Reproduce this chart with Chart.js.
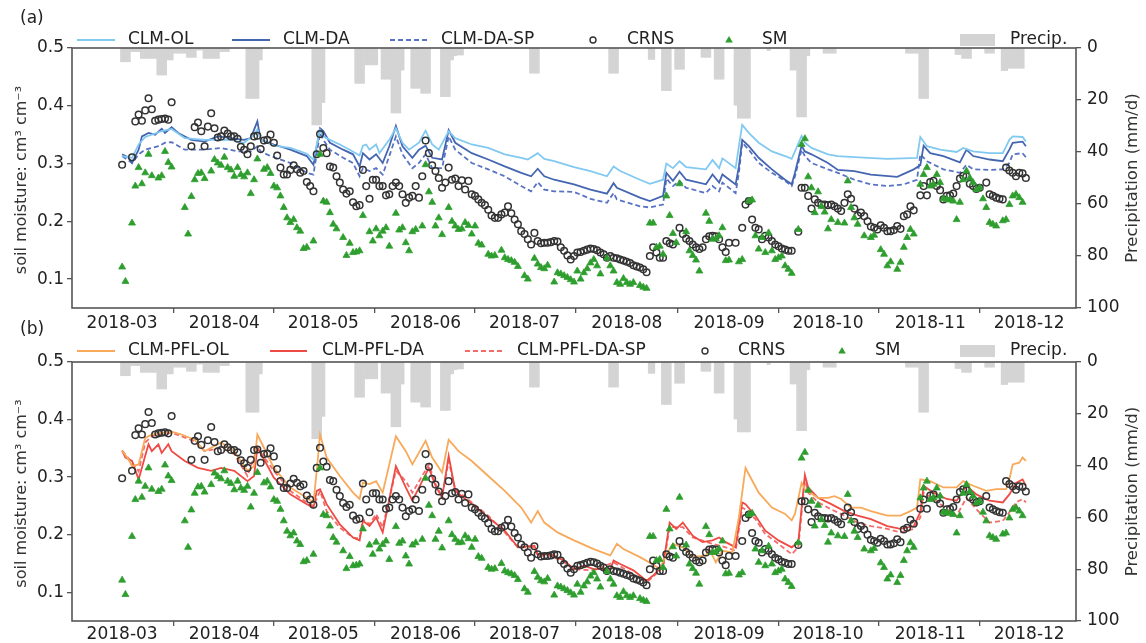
<!DOCTYPE html>
<html>
<head>
<meta charset="utf-8">
<script src="https://cdn.jsdelivr.net/npm/chart.js@4.4.0/dist/chart.umd.min.js"></script>
<style>
  body { margin: 0; background: #fff; width: 1146px; height: 643px; position: relative; overflow: hidden; }
  canvas { position: absolute; left: 0; }
  #chartA { top: 0; }
  #chartB { top: 318px; }
</style>
</head>
<body>
<canvas id="chartA" width="1146" height="336"></canvas>
<canvas id="chartB" width="1146" height="325"></canvas>
<script>
// x values are days counted from 2018-03-01
const tickDays = [0, 31, 61, 92, 122, 153, 184, 214, 245, 275];
const tickLabels = ['2018-03', '2018-04', '2018-05', '2018-06', '2018-07', '2018-08', '2018-09', '2018-10', '2018-11', '2018-12'];
const moistureTicks = [0.1, 0.2, 0.3, 0.4, 0.5];
const precipTicks = [0, 20, 40, 60, 80, 100];

// daily precipitation (mm/d), only rainy days
const precipDays = [0,1,2,3,4,5,6,7,8,9,10,11,12,13,14,15,16,17,18,19,20,21,22,23,24,25,26,27,28,29,30,31,32,
  38,39,40,41,42,58,59,60,61,71,72,73,74,75,76,77,79,80,81,82,83,84,85,88,89,90,91,92,93,97,98,99,100,101,102,103,
  124,125,126,148,149,150,160,161,164,165,166,168,169,170,176,177,178,180,181,182,186,187,188,189,190,196,
  203,204,205,206,207,208,213,214,215,216,238,239,240,241,242,243,244,253,254,255,256,257,262,263,264,
  267,268,269,270,271,272,273];
const precipMm = [5.3,5.3,5.3,1.4,1.4,1.4,4,4,4,4,4,10.4,10.4,10.4,4.6,4.6,2,2,2,2,3.6,3.6,3.6,0.8,0.8,4,4,4,4,4,1.4,1.4,1.4,
  19.4,19.4,19.4,19.4,4.6,29.6,29.6,29.6,21,13.6,13.6,13.6,6.5,6.5,6.5,6.5,12,12,12,25,25,25,8.5,15.5,15.5,15.5,17.4,17.4,17.4,18.7,18.7,18.7,4.6,3,2.7,2.7,
  9.7,9.7,9.7,9.7,9.7,9.7,4.4,4.4,16.4,16.4,16.4,8.2,8.2,8.2,3.6,3.6,3.6,12,12,12,22,27,27,27,27,1,
  8.5,8.5,26.5,26.5,26.5,3,2,2,2,2,2,2,2,2,19.4,19.4,19.4,2.5,2.5,4,4,4,2,2,2,
  8.7,8.7,7.8,7.8,7.8,7.8,7.8];

// observations [day, soil moisture]
const crns = [[0,0.298],[3,0.311],[4,0.373],[5,0.385],[6,0.374],[7,0.392],[8,0.413],[9,0.394],[10,0.374],[11,0.376],[12,0.377],[13,0.378],[14,0.376],[15,0.406],
  [21,0.33],[22,0.363],[23,0.371],[24,0.356],[25,0.33],[26,0.364],[27,0.387],[28,0.361],[29,0.345],[30,0.347],[31,0.357],[32,0.352],[33,0.347],[34,0.347],[35,0.343],
  [36,0.329],[37,0.324],[38,0.316],[39,0.33],[40,0.347],[41,0.348],[42,0.325],[43,0.34],[44,0.341],[45,0.35],[46,0.336],[47,0.314],[48,0.293],[49,0.281],[50,0.281],
  [51,0.289],[52,0.297],[53,0.29],[54,0.284],[55,0.287],[56,0.268],[57,0.261],[58,0.252],[59,0.316],[60,0.351],[61,0.327],[62,0.318],[63,0.295],[64,0.293],[65,0.278],
  [66,0.267],[67,0.255],[68,0.248],[69,0.252],[70,0.233],[71,0.226],[72,0.228],[73,0.289],[74,0.261],[75,0.239],[76,0.272],[77,0.272],[78,0.261],[79,0.261],[80,0.245],
  [81,0.247],[82,0.261],[83,0.267],[84,0.261],[85,0.247],[86,0.232],[87,0.241],[88,0.244],[89,0.261],[90,0.241],[91,0.278],[92,0.34],[93,0.318],[94,0.297],[95,0.287],
  [96,0.275],[97,0.258],[98,0.267],[99,0.293],[100,0.272],[101,0.274],[102,0.261],[103,0.271],[104,0.255],[105,0.27],[106,0.247],[107,0.244],[108,0.238],[109,0.232],
  [110,0.228],[111,0.22],[112,0.21],[113,0.206],[114,0.206],[115,0.212],[116,0.215],[117,0.226],[118,0.214],[119,0.203],[120,0.195],[121,0.183],[122,0.178],[123,0.169],
  [124,0.16],[125,0.18],[126,0.166],[127,0.162],[128,0.163],[129,0.163],[130,0.164],[131,0.166],[132,0.165],[133,0.155],[134,0.149],[135,0.141],[136,0.134],[137,0.14],
  [138,0.146],[139,0.147],[140,0.149],[141,0.151],[142,0.153],[143,0.152],[144,0.15],[145,0.146],[146,0.143],[147,0.137],[148,0.14],[149,0.137],[150,0.136],[151,0.134],
  [152,0.132],[153,0.13],[154,0.128],[155,0.124],[156,0.122],[157,0.12],[158,0.117],[159,0.112],[160,0.14],[161,0.155],[162,0.146],[163,0.137],[164,0.137],[165,0.166],
  [166,0.162],[167,0.16],[169,0.189],[170,0.178],[171,0.17],[172,0.166],[173,0.16],[174,0.155],[175,0.152],[176,0.155],[177,0.169],[178,0.174],[179,0.175],[180,0.174],
  [181,0.169],[182,0.155],[183,0.147],[184,0.163],[186,0.163],[188,0.189],[189,0.229],[190,0.235],[191,0.203],[192,0.189],[193,0.186],[194,0.169],[195,0.175],[196,0.172],
  [197,0.166],[198,0.16],[199,0.157],[200,0.153],[201,0.151],[202,0.149],[203,0.149],[205,0.182],[206,0.258],[207,0.258],[208,0.244],[209,0.222],[210,0.238],[211,0.232],
  [212,0.229],[213,0.229],[214,0.228],[215,0.229],[216,0.226],[217,0.222],[218,0.218],[219,0.232],[220,0.247],[221,0.239],[222,0.222],[223,0.21],[224,0.215],[225,0.209],
  [226,0.2],[227,0.191],[228,0.189],[229,0.186],[230,0.193],[231,0.189],[232,0.183],[233,0.183],[234,0.185],[235,0.192],[236,0.187],[237,0.209],[238,0.212],[239,0.226],
  [240,0.219],[242,0.245],[243,0.261],[244,0.245],[245,0.268],[246,0.27],[247,0.261],[248,0.254],[249,0.238],[250,0.244],[251,0.245],[252,0.248],[253,0.261],[254,0.274],
  [255,0.279],[256,0.278],[257,0.265],[258,0.261],[259,0.256],[260,0.258],[262,0.267],[263,0.247],[264,0.244],[265,0.241],[266,0.239],[267,0.238],[268,0.293],[269,0.288],
  [270,0.284],[271,0.278],[272,0.284],[273,0.283],[274,0.275]];

const sm = [[0,0.121],[1,0.096],[3,0.197],[4,0.261],[5,0.293],[6,0.265],[7,0.284],[8,0.316],[9,0.279],[11,0.275],[12,0.279],[13,0.321],[14,0.302],[15,0.294],
  [19,0.224],[20,0.178],[21,0.243],[22,0.272],[23,0.283],[24,0.284],[25,0.274],[27,0.287],[28,0.307],[29,0.301],[30,0.297],[31,0.311],[32,0.293],[33,0.289],[34,0.278],
  [35,0.293],[36,0.281],[37,0.277],[38,0.284],[39,0.248],[40,0.272],[41,0.308],[43,0.29],[44,0.293],[45,0.283],[46,0.261],[47,0.258],[48,0.244],[49,0.224],[50,0.206],
  [51,0.198],[52,0.203],[53,0.189],[54,0.183],[55,0.153],[56,0.155],[58,0.166],[60,0.316],[61,0.235],[62,0.233],[63,0.215],[64,0.195],[65,0.187],[67,0.172],[68,0.141],
  [69,0.162],[70,0.146],[71,0.147],[72,0.149],[73,0.21],[75,0.182],[76,0.166],[77,0.187],[78,0.175],[79,0.183],[80,0.189],[81,0.157],[83,0.214],[84,0.185],[85,0.189],
  [86,0.163],[87,0.149],[88,0.182],[89,0.186],[91,0.192],[92,0.298],[93,0.251],[94,0.233],[95,0.192],[96,0.206],[97,0.177],[99,0.224],[100,0.2],[101,0.192],[102,0.186],
  [103,0.187],[104,0.198],[105,0.193],[106,0.178],[107,0.192],[108,0.162],[109,0.159],[111,0.143],[112,0.14],[113,0.141],[115,0.15],[116,0.137],[117,0.134],[118,0.132],
  [119,0.129],[120,0.122],[122,0.106],[123,0.1],[125,0.136],[126,0.126],[127,0.12],[128,0.118],[129,0.124],[131,0.095],[132,0.111],[133,0.109],[134,0.106],[135,0.103],
  [136,0.099],[137,0.095],[138,0.114],[139,0.1],[140,0.111],[141,0.118],[142,0.128],[143,0.134],[144,0.123],[145,0.109],[147,0.136],[148,0.123],[149,0.114],[150,0.094],
  [151,0.091],[152,0.101],[153,0.094],[154,0.091],[155,0.094],[157,0.089],[158,0.086],[159,0.084],[160,0.197],[161,0.197],[162,0.155],[163,0.157],[164,0.143],[165,0.244],
  [166,0.21],[167,0.179],[168,0.163],[169,0.265],[171,0.182],[172,0.149],[173,0.141],[174,0.133],[175,0.114],[177,0.214],[178,0.2],[179,0.169],[180,0.17],[181,0.175],
  [182,0.189],[183,0.132],[184,0.133],[187,0.13],[188,0.134],[190,0.235],[191,0.237],[192,0.175],[193,0.152],[194,0.172],[195,0.146],[196,0.18],[197,0.149],[198,0.134],
  [199,0.137],[200,0.14],[201,0.123],[202,0.117],[203,0.11],[205,0.186],[206,0.333],[207,0.343],[208,0.277],[209,0.258],[210,0.215],[211,0.251],[212,0.226],[213,0.216],
  [214,0.187],[215,0.203],[217,0.198],[219,0.197],[220,0.27],[221,0.224],[222,0.206],[223,0.195],[225,0.175],[227,0.172],[228,0.176],[230,0.151],[231,0.143],[232,0.123],
  [233,0.13],[235,0.117],[236,0.129],[237,0.155],[238,0.172],[239,0.186],[240,0.178],[242,0.264],[243,0.281],[244,0.293],[245,0.261],[246,0.264],[247,0.281],[248,0.267],
  [249,0.239],[250,0.238],[251,0.237],[252,0.235],[253,0.203],[254,0.233],[255,0.272],[256,0.287],[257,0.275],[258,0.267],[259,0.255],[260,0.258],[261,0.239],[262,0.224],
  [263,0.198],[264,0.195],[265,0.192],[267,0.201],[268,0.203],[269,0.229],[270,0.244],[271,0.247],[272,0.241],[273,0.233]];

// panel (a) model runs
const clmOL = [[0,0.313],[3,0.31],[5,0.333],[7,0.346],[12,0.356],[15,0.36],[19,0.344],[25,0.341],[29,0.341],[33,0.341],[37,0.336],[40,0.35],[41,0.359],[42,0.341],
  [46,0.331],[51,0.327],[56,0.317],[58,0.307],[60,0.358],[61,0.347],[63,0.341],[66,0.333],[69,0.324],[72,0.314],[73,0.331],[74,0.333],[75,0.324],[77,0.333],[78,0.318],
  [81,0.341],[83,0.361],[85,0.336],[87,0.324],[90,0.336],[92,0.357],[94,0.333],[96,0.324],[99,0.356],[101,0.344],[106,0.333],[111,0.327],[116,0.316],[121,0.31],
  [123,0.307],[126,0.318],[128,0.308],[131,0.304],[137,0.294],[142,0.287],[147,0.278],[149,0.295],[151,0.287],[157,0.272],[160,0.265],[164,0.272],[165,0.3],[167,0.292],
  [169,0.304],[171,0.294],[177,0.29],[179,0.306],[181,0.292],[182,0.309],[186,0.292],[187,0.33],[188,0.367],[190,0.353],[193,0.336],[197,0.321],[201,0.313],[203,0.308],
  [204,0.321],[206,0.348],[207,0.336],[209,0.327],[214,0.316],[217,0.313],[222,0.311],[232,0.308],[241,0.31],[242,0.346],[244,0.33],[248,0.324],[253,0.32],[255,0.327],
  [258,0.321],[263,0.318],[267,0.318],[269,0.341],[270,0.347],[273,0.346],[274,0.338]];
const clmDA = [[0,0.316],[2,0.31],[3,0.301],[5,0.324],[6,0.347],[8,0.353],[10,0.35],[12,0.36],[13,0.353],[15,0.363],[17,0.353],[21,0.341],[25,0.338],[29,0.347],
  [33,0.344],[37,0.341],[39,0.344],[41,0.373],[42,0.341],[46,0.333],[51,0.324],[56,0.313],[58,0.298],[60,0.361],[61,0.356],[63,0.336],[67,0.324],[70,0.316],[72,0.295],
  [73,0.318],[75,0.307],[77,0.316],[79,0.301],[81,0.33],[83,0.365],[85,0.33],[88,0.31],[90,0.324],[92,0.331],[94,0.31],[97,0.307],[99,0.358],[101,0.336],[106,0.318],
  [111,0.307],[116,0.295],[121,0.284],[124,0.278],[126,0.291],[128,0.278],[131,0.272],[137,0.264],[142,0.255],[147,0.248],[149,0.266],[150,0.258],[157,0.241],[160,0.235],
  [164,0.244],[165,0.284],[167,0.27],[169,0.286],[171,0.272],[177,0.264],[179,0.281],[181,0.267],[182,0.281],[186,0.264],[187,0.295],[188,0.341],[190,0.33],[193,0.31],
  [197,0.29],[201,0.272],[203,0.264],[204,0.284],[206,0.331],[207,0.321],[209,0.316],[214,0.301],[217,0.289],[222,0.287],[227,0.281],[235,0.277],[240,0.29],[242,0.297],
  [243,0.331],[245,0.318],[249,0.313],[254,0.302],[256,0.324],[258,0.313],[263,0.307],[267,0.304],[269,0.324],[270,0.336],[273,0.338],[274,0.33]];
const clmDASP = [[0,0.313],[3,0.301],[5,0.316],[7,0.324],[11,0.33],[13,0.336],[15,0.337],[19,0.324],[25,0.324],[30,0.327],[35,0.321],[39,0.321],[41,0.33],[42,0.321],
  [45,0.313],[51,0.301],[56,0.284],[58,0.281],[60,0.353],[61,0.341],[63,0.324],[67,0.31],[70,0.301],[72,0.278],[73,0.292],[75,0.287],[77,0.292],[79,0.281],[81,0.313],
  [83,0.347],[85,0.316],[88,0.292],[90,0.301],[92,0.316],[94,0.292],[97,0.292],[99,0.347],[101,0.324],[106,0.301],[111,0.29],[116,0.278],[121,0.261],[124,0.252],
  [126,0.268],[128,0.255],[131,0.252],[137,0.251],[142,0.239],[147,0.232],[149,0.249],[150,0.238],[157,0.226],[160,0.224],[164,0.229],[165,0.274],[167,0.261],[169,0.27],
  [171,0.258],[177,0.249],[179,0.261],[181,0.252],[182,0.267],[186,0.249],[187,0.284],[188,0.336],[190,0.324],[193,0.301],[197,0.284],[201,0.27],[203,0.261],[204,0.278],
  [206,0.324],[207,0.313],[209,0.301],[214,0.29],[217,0.284],[222,0.272],[227,0.264],[232,0.261],[237,0.264],[241,0.272],[242,0.316],[244,0.304],[249,0.29],[254,0.284],
  [256,0.298],[258,0.29],[263,0.289],[267,0.29],[269,0.301],[270,0.316],[273,0.318],[274,0.311]];

// panel (b) model runs
const pflOL = [[0,0.346],[2,0.33],[3,0.319],[5,0.322],[7,0.368],[9,0.374],[12,0.377],[15,0.379],[18,0.374],[22,0.365],[25,0.345],[27,0.351],[30,0.36],[34,0.345],
  [38,0.311],[40,0.319],[41,0.374],[43,0.351],[46,0.316],[51,0.282],[56,0.264],[58,0.256],[59,0.311],[60,0.374],[62,0.334],[66,0.302],[70,0.273],[72,0.262],[73,0.29],
  [75,0.288],[77,0.293],[79,0.273],[83,0.371],[86,0.345],[88,0.322],[92,0.363],[94,0.334],[97,0.308],[99,0.365],[102,0.345],[106,0.328],[111,0.302],[116,0.276],
  [121,0.247],[124,0.221],[126,0.241],[128,0.221],[132,0.204],[137,0.19],[143,0.175],[148,0.164],[150,0.184],[152,0.175],[157,0.161],[161,0.148],[163,0.14],[165,0.166],
  [167,0.184],[170,0.178],[173,0.161],[177,0.164],[178,0.175],[180,0.152],[182,0.172],[185,0.169],[187,0.23],[189,0.316],[190,0.305],[193,0.273],[197,0.247],[201,0.236],
  [203,0.225],[204,0.236],[206,0.29],[207,0.279],[211,0.264],[214,0.264],[216,0.267],[218,0.262],[221,0.247],[224,0.247],[227,0.241],[232,0.233],[236,0.233],[239,0.241],
  [241,0.247],[242,0.296],[245,0.293],[249,0.282],[253,0.282],[255,0.293],[258,0.285],[262,0.276],[265,0.279],[268,0.279],[269,0.296],[270,0.322],[272,0.325],[273,0.334],
  [274,0.328]];
const pflDA = [[0,0.346],[1,0.334],[3,0.328],[5,0.296],[7,0.337],[8,0.357],[9,0.345],[11,0.357],[12,0.342],[14,0.357],[15,0.345],[19,0.328],[23,0.316],[27,0.311],
  [30,0.316],[34,0.311],[38,0.293],[40,0.302],[41,0.351],[43,0.331],[46,0.299],[51,0.27],[56,0.253],[58,0.247],[59,0.276],[60,0.279],[62,0.253],[66,0.218],[70,0.195],
  [72,0.19],[73,0.224],[75,0.215],[77,0.23],[79,0.204],[83,0.319],[86,0.282],[88,0.259],[93,0.316],[95,0.285],[97,0.264],[99,0.337],[101,0.276],[106,0.253],[111,0.23],
  [116,0.207],[120,0.178],[125,0.181],[126,0.166],[130,0.166],[134,0.155],[137,0.14],[140,0.146],[143,0.14],[148,0.14],[149,0.155],[151,0.149],[155,0.138],[159,0.12],
  [161,0.129],[164,0.146],[166,0.221],[168,0.21],[170,0.221],[173,0.198],[176,0.187],[179,0.19],[181,0.195],[183,0.187],[186,0.178],[188,0.256],[189,0.253],[192,0.233],
  [195,0.207],[199,0.19],[203,0.178],[205,0.187],[207,0.304],[208,0.282],[211,0.264],[215,0.253],[219,0.241],[223,0.233],[227,0.227],[232,0.215],[236,0.21],[240,0.215],
  [242,0.239],[243,0.285],[246,0.273],[250,0.262],[253,0.259],[256,0.285],[259,0.27],[263,0.259],[267,0.256],[269,0.27],[271,0.29],[273,0.296],[274,0.285]];
const pflDASP = [[0,0.346],[3,0.325],[5,0.31],[7,0.36],[9,0.371],[12,0.375],[15,0.377],[18,0.371],[22,0.362],[25,0.345],[30,0.351],[34,0.34],[38,0.302],[41,0.351],
  [46,0.311],[51,0.276],[56,0.256],[58,0.25],[60,0.276],[62,0.241],[66,0.212],[70,0.195],[72,0.193],[73,0.227],[75,0.218],[77,0.236],[79,0.213],[83,0.311],[86,0.293],
  [88,0.273],[93,0.322],[95,0.288],[97,0.267],[99,0.328],[101,0.279],[106,0.256],[111,0.233],[116,0.204],[120,0.178],[125,0.178],[126,0.163],[130,0.163],[134,0.152],
  [137,0.14],[143,0.138],[149,0.152],[159,0.117],[164,0.143],[166,0.213],[170,0.213],[173,0.195],[179,0.184],[183,0.178],[186,0.172],[188,0.247],[189,0.244],[192,0.227],
  [195,0.201],[199,0.184],[203,0.166],[205,0.178],[207,0.296],[208,0.273],[211,0.256],[215,0.244],[219,0.233],[223,0.221],[227,0.215],[232,0.21],[236,0.204],[240,0.21],
  [242,0.23],[243,0.273],[246,0.262],[250,0.244],[253,0.233],[256,0.264],[259,0.244],[263,0.221],[267,0.224],[269,0.239],[271,0.256],[273,0.262],[274,0.256]];

const COL = {
  ol: '#82c9f2', da: '#4466b0', sp: '#5873c4',
  pol: '#f8a95a', pda: '#ee4b45', psp: '#f46c6a',
  crns: '#333', sm: '#2e9e2e', rain: '#d4d4d4', frame: '#555', text: '#222'
};
const FONT = 'DejaVu Sans';
Chart.defaults.font.family = FONT;
Chart.defaults.color = COL.text;

const pts = pairs => pairs.map(p => ({ x: p[0], y: p[1] }));

function lineSet(label, pairs, color, dash) {
  return { type: 'line', label, data: pts(pairs), borderColor: color, borderWidth: 1.8,
    borderDash: dash || [], pointRadius: 0, fill: false, tension: 0, yAxisID: 'y', order: 3 };
}

function obsSets() {
  return [
    { type: 'scatter', label: 'CRNS', data: pts(crns), pointStyle: 'circle', pointRadius: 3.3,
      borderColor: COL.crns, borderWidth: 1.5, backgroundColor: 'rgba(0,0,0,0)', yAxisID: 'y', order: 2 },
    { type: 'scatter', label: 'SM', data: pts(sm), pointStyle: 'triangle', pointRadius: 4,
      borderColor: COL.sm, borderWidth: 0.8, backgroundColor: COL.sm, yAxisID: 'y', order: 1 },
    { type: 'bar', label: 'Precip.', data: precipDays.map((d, i) => ({ x: d, y: precipMm[i] })),
      backgroundColor: COL.rain, barPercentage: 1, categoryPercentage: 1, yAxisID: 'yP', order: 10 }
  ];
}

// frame box, panel tag, axis titles and the one-row legend
const decoPlugin = {
  id: 'deco',
  afterDraw(chart, args, o) {
    const { ctx, chartArea: a } = chart;
    ctx.save();
    ctx.strokeStyle = COL.frame;
    ctx.lineWidth = 1.6;
    ctx.strokeRect(a.left, a.top, a.right - a.left, a.bottom - a.top);

    ctx.fillStyle = COL.text;
    ctx.textBaseline = 'middle';
    ctx.font = '17px "' + FONT + '"';
    ctx.textAlign = 'left';
    ctx.fillText(o.tag, 20, o.tagY);

    const midY = (a.top + a.bottom) / 2;
    ctx.fillStyle = '#333';
    ctx.textAlign = 'center';
    ctx.font = '16px "' + FONT + '"';
    ctx.save(); ctx.translate(22, midY + 2); ctx.rotate(-Math.PI / 2);
    ctx.fillText('soil moisture: cm³ cm⁻³', 0, 0); ctx.restore();
    ctx.font = '16.5px "' + FONT + '"';
    ctx.save(); ctx.translate(1133, midY); ctx.rotate(-Math.PI / 2);
    ctx.fillText('Precipitation (mm/d)', 0, 0); ctx.restore();

    const y = o.legendY;
    ctx.font = '17px "' + FONT + '"';
    ctx.textAlign = 'left';
    o.items.forEach(it => {
      if (it.kind === 'line') {
        ctx.save();
        ctx.strokeStyle = it.color; ctx.lineWidth = 1.9; ctx.setLineDash(it.dash || []);
        ctx.beginPath(); ctx.moveTo(it.x0, y); ctx.lineTo(it.x1, y); ctx.stroke();
        ctx.restore();
      } else if (it.kind === 'circle') {
        ctx.save(); ctx.strokeStyle = COL.crns; ctx.lineWidth = 1.4;
        ctx.beginPath(); ctx.arc(it.x0, y, 3, 0, Math.PI * 2); ctx.stroke(); ctx.restore();
      } else if (it.kind === 'tri') {
        ctx.save(); ctx.fillStyle = COL.sm;
        ctx.beginPath(); ctx.moveTo(it.x0, y - 4); ctx.lineTo(it.x0 + 3.8, y + 2.6); ctx.lineTo(it.x0 - 3.8, y + 2.6);
        ctx.closePath(); ctx.fill(); ctx.restore();
      } else if (it.kind === 'patch') {
        ctx.save(); ctx.fillStyle = COL.rain; ctx.fillRect(it.x0, y - 6, it.x1 - it.x0, 12); ctx.restore();
      }
      ctx.fillStyle = COL.text;
      ctx.fillText(it.text, it.tx, y);
    });
    ctx.restore();
  }
};

function makeChart(id, datasets, padTop, xHeight, labelPad, deco) {
  const tickGrid = { drawOnChartArea: false, drawTicks: true, tickLength: 5, color: COL.frame, lineWidth: 1.3 };
  return new Chart(document.getElementById(id), {
    type: 'line',
    data: { datasets },
    plugins: [decoPlugin],
    options: {
      responsive: false, animation: false, devicePixelRatio: 1,
      layout: { padding: { top: padTop, left: 0, right: 0, bottom: 0 } },
      plugins: { legend: { display: false }, tooltip: { enabled: false }, deco },
      scales: {
        x: {
          type: 'linear', min: -15.2, max: 289.2, offset: false,
          grid: tickGrid, border: { display: false },
          afterBuildTicks: s => { s.ticks = tickDays.map(v => ({ value: v })); },
          afterFit: s => { s.height = xHeight; },
          ticks: { autoSkip: false, maxRotation: 0, padding: labelPad, font: { size: 17 },
            callback: (v, i) => tickLabels[i] }
        },
        y: {
          position: 'left', min: 0.05, max: 0.5,
          grid: tickGrid, border: { display: false },
          afterBuildTicks: s => { s.ticks = moistureTicks.map(v => ({ value: v })); },
          afterFit: s => { s.width = 72; },
          ticks: { padding: 3, font: { size: 17 }, callback: v => v.toFixed(1) }
        },
        yP: {
          position: 'right', min: 0, max: 100, reverse: true,
          grid: tickGrid, border: { display: false },
          afterBuildTicks: s => { s.ticks = precipTicks.map(v => ({ value: v })); },
          afterFit: s => { s.width = 70; },
          ticks: { padding: 6, font: { size: 17 }, callback: v => String(v) }
        }
      }
    }
  });
}

makeChart('chartA', [
  lineSet('CLM-OL', clmOL, COL.ol),
  lineSet('CLM-DA', clmDA, COL.da),
  lineSet('CLM-DA-SP', clmDASP, COL.sp, [5, 3]),
  ...obsSets()
], 48, 28, 0, {
  tag: '(a)', tagY: 19, legendY: 40,
  items: [
    { kind: 'line', color: COL.ol, x0: 77, x1: 115, tx: 128, text: 'CLM-OL' },
    { kind: 'line', color: COL.da, x0: 232, x1: 270, tx: 283, text: 'CLM-DA' },
    { kind: 'line', color: COL.sp, dash: [5, 3], x0: 390, x1: 428, tx: 441, text: 'CLM-DA-SP' },
    { kind: 'circle', x0: 593, tx: 627, text: 'CRNS' },
    { kind: 'tri', x0: 729, tx: 762, text: 'SM' },
    { kind: 'patch', x0: 960, x1: 995, tx: 1010, text: 'Precip.' }
  ]
});

makeChart('chartB', [
  lineSet('CLM-PFL-OL', pflOL, COL.pol),
  lineSet('CLM-PFL-DA', pflDA, COL.pda),
  lineSet('CLM-PFL-DA-SP', pflDASP, COL.psp, [5, 3]),
  ...obsSets()
], 44, 22, -2, {
  tag: '(b)', tagY: 12, legendY: 33,
  items: [
    { kind: 'line', color: COL.pol, x0: 77, x1: 115, tx: 128, text: 'CLM-PFL-OL' },
    { kind: 'line', color: COL.pda, x0: 270, x1: 307, tx: 322, text: 'CLM-PFL-DA' },
    { kind: 'line', color: COL.psp, dash: [5, 3], x0: 465, x1: 502, tx: 517, text: 'CLM-PFL-DA-SP' },
    { kind: 'circle', x0: 705, tx: 738, text: 'CRNS' },
    { kind: 'tri', x0: 842, tx: 875, text: 'SM' },
    { kind: 'patch', x0: 960, x1: 995, tx: 1010, text: 'Precip.' }
  ]
});
</script>
</body>
</html>
